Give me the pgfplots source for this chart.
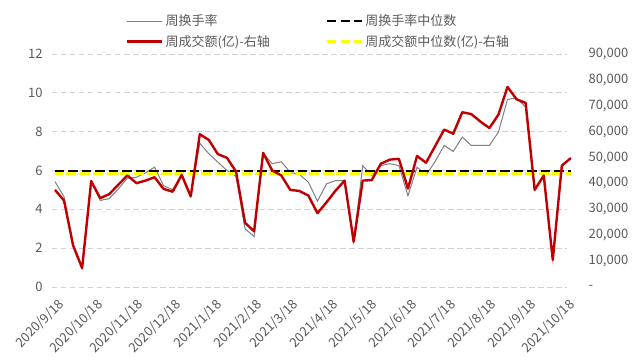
\documentclass[border=0pt]{standalone}
\usepackage{pgfplots}
\usepackage{pgfplotstable}
\pgfplotsset{compat=1.18}
\usepackage{fontspec}
\setmainfont{Noto Sans CJK SC}
\definecolor{txt}{RGB}{89,89,89}
\definecolor{gridc}{RGB}{210,210,210}
\definecolor{redl}{RGB}{192,0,0}
\definecolor{grayl}{RGB}{128,128,128}
\definecolor{yell}{RGB}{255,255,0}

\pgfplotstableread{
d turn amt
0 5.43 37500
7 4.65 33400
14 2.15 16100
21 0.97 7300
28 5.45 40900
35 4.46 34300
42 4.55 35900
49 5.05 39500
56 5.6 43100
63 5.65 40100
70 5.88 41100
77 6.17 42400
84 5.22 37900
91 5.01 36800
98 5.77 43300
105 4.67 35000
112 7.4 59000
119 6.86 56800
126 6.43 51300
133 6.0 49900
140 5.7 44600
147 3.0 24800
154 2.6 21500
161 6.9 51800
168 6.35 45000
175 6.45 43100
182 5.9 37500
189 5.8 37100
196 5.4 35300
203 4.42 28500
210 5.31 32700
217 5.48 37200
224 5.48 41100
231 2.33 17500
238 6.25 41100
245 5.74 41300
252 6.25 47600
259 6.35 49200
266 6.25 49500
273 4.7 38000
280 6.17 50600
287 5.77 48000
294 6.46 54400
301 7.29 60800
308 6.98 59200
315 7.72 67500
322 7.29 66800
329 7.29 63900
336 7.29 61400
343 7.98 66600
350 9.66 77300
357 9.74 72500
364 9.27 71100
371 5.0 37500
378 5.74 43100
385 1.4 10500
392 6.25 46900
399 6.64 49800
}\datatable

\begin{document}
\begin{tikzpicture}
\pgfplotsset{
  common/.style={
    scale only axis, width=515pt, height=233pt,
    xmin=-2.3, xmax=396,
    axis line style={draw=none},
    major tick length=0pt,
    clip=false,
    tick label style={font=\fontsize{13}{15}\selectfont, text=txt},
    /pgf/number format/assume math mode=true,
  }
}
\begin{axis}[common, name=a,
  ymin=0, ymax=12, ytick={0,2,...,12},
  ymajorgrids,
  grid style={gridc, line width=0.8pt, dash pattern=on 5.5pt off 3.5pt},
  xtick={0,30,61,91,122,153,181,212,242,273,303,334,365,395},
  xticklabels={2020/9/18,2020/10/18,2020/11/18,2020/12/18,2021/1/18,2021/2/18,2021/3/18,2021/4/18,2021/5/18,2021/6/18,2021/7/18,2021/8/18,2021/9/18,2021/10/18},
  xticklabel style={rotate=45, anchor=north east, yshift=-8pt, xshift=-5pt, inner sep=1pt},
  yticklabel style={xshift=-6pt},
  legend columns=2,
  legend cell align=left,
  legend style={draw=none, fill=none, font=\fontsize{13}{15}\selectfont, text=txt,
    at={(axis description cs:0,1)}, anchor=south west, xshift=74pt, yshift=4pt,
    inner sep=0pt, row sep=4pt,
    /tikz/every even column/.append style={column sep=54pt}},
  legend image code/.code={\draw[#1] (0pt,0pt) -- (35pt,0pt);},
]
\addlegendimage{grayl, line width=1pt}
\addlegendentry{周换手率}
\addlegendimage{black, line width=2.6pt, dash pattern=on 9pt off 4.5pt}
\addlegendentry{周换手率中位数}
\addlegendimage{redl, line width=2.4pt}
\addlegendentry{周成交额(亿)-右轴}
\addlegendimage{yell, line width=2.6pt, dash pattern=on 9pt off 4.5pt}
\addlegendentry{周成交额中位数(亿)-右轴}

\addplot[grayl, line width=1pt, forget plot] table[x=d, y=turn] {\datatable};
\addplot[yell, line width=3pt, dash pattern=on 10pt off 3.5pt, dash phase=2pt, forget plot] table[x=d, y expr=\thisrow{amt}/7500] {
d amt
0 43900
399 43900
};
\addplot[black, line width=2.6pt, dash pattern=on 9.5pt off 4pt, forget plot] coordinates {(0,5.97) (399,5.97)};
\addplot[redl, line width=2.4pt, line join=round, forget plot] table[x=d, y expr=\thisrow{amt}/7500] {\datatable};
\end{axis}

\begin{axis}[common,
  hide x axis,
  axis y line*=right,
  ymin=0, ymax=90000,
  ytick={0,10000,20000,30000,40000,50000,60000,70000,80000,90000},
  yticklabels={{-},{10,000},{20,000},{30,000},{40,000},{50,000},{60,000},{70,000},{80,000},{90,000}},
  yticklabel style={anchor=west, xshift=18pt},
  scaled y ticks=false,
]
\addplot[draw=none] coordinates {(0,0)};
\end{axis}

\pgfresetboundingbox
\path ([shift={(-52pt,-73pt)}]a.south west) rectangle ([shift={(73pt,54pt)}]a.north east);
\end{tikzpicture}
\end{document}
